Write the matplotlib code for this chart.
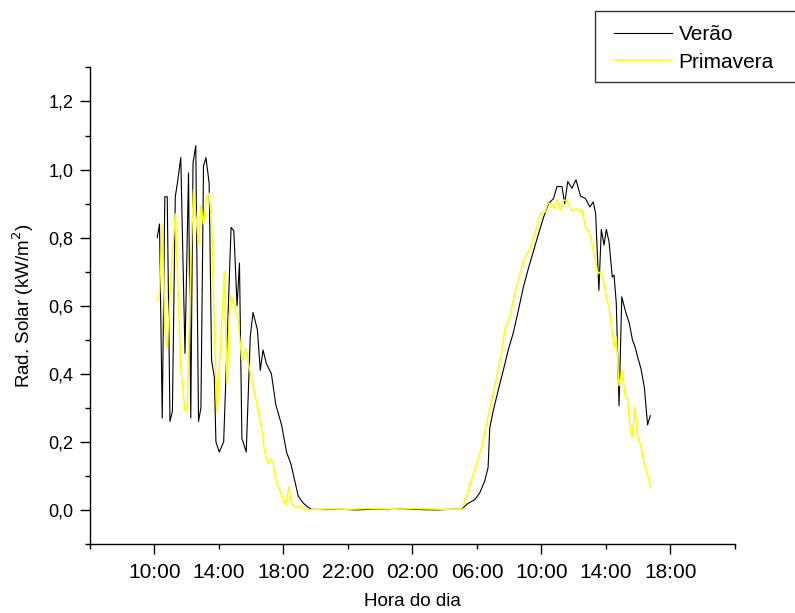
import numpy as np
import matplotlib.pyplot as plt
from matplotlib.ticker import FixedLocator, FixedFormatter, MultipleLocator, FuncFormatter
from matplotlib.patches import Rectangle

plt.rcParams['font.family'] = ['Liberation Sans', 'DejaVu Sans']

# Verão (hora contínua, kW/m2)
verao_h = [10.17, 10.31, 10.48, 10.64, 10.79, 10.96, 11.11, 11.29, 11.42, 11.63,
           11.89, 12.11, 12.25, 12.39, 12.56, 12.73, 12.88, 13.04, 13.19, 13.39,
           13.54, 13.71, 13.81, 14.02, 14.29, 14.75, 14.92, 15.12, 15.27, 15.42,
           15.56, 15.69, 15.94, 16.11, 16.38, 16.56, 16.73, 16.94, 17.25, 17.52,
           17.88, 18.19, 18.46, 18.92, 19.23, 19.54, 19.75, 20.5, 21.5, 22.5,
           23.5, 24.5, 25.5, 26.5, 27.5, 28.5, 29.02, 29.44, 29.86, 30.17,
           30.48, 30.69, 30.79, 31.0, 31.31, 31.63, 31.94, 32.25, 32.56, 32.88,
           33.19, 33.5, 33.81, 34.13, 34.44, 34.75, 34.96, 35.27, 35.44, 35.63,
           35.89, 36.14, 36.42, 36.73, 37.0, 37.21, 37.36, 37.56, 37.71, 37.88,
           38.02, 38.19, 38.39, 38.5, 38.64, 38.81, 38.98, 39.23, 39.44, 39.64,
           39.81, 39.96, 40.17, 40.38, 40.58, 40.75]
verao_v = [0.80, 0.84, 0.27, 0.92, 0.92, 0.26, 0.29, 0.92, 0.96, 1.035,
           0.46, 0.99, 0.27, 1.02, 1.07, 0.26, 0.30, 1.01, 1.035, 0.96,
           0.44, 0.39, 0.20, 0.17, 0.20, 0.83, 0.82, 0.60, 0.725, 0.21,
           0.19, 0.17, 0.51, 0.58, 0.53, 0.41, 0.47, 0.43, 0.40, 0.31,
           0.25, 0.17, 0.135, 0.04, 0.02, 0.007, 0.002, 0.001, 0.002, 0.0,
           0.002, 0.001, 0.003, 0.001, 0.0, 0.002, 0.002, 0.019, 0.03, 0.05,
           0.085, 0.125, 0.24, 0.29, 0.35, 0.41, 0.47, 0.52, 0.585, 0.655,
           0.71, 0.76, 0.81, 0.86, 0.90, 0.915, 0.95, 0.95, 0.90, 0.965,
           0.945, 0.97, 0.922, 0.915, 0.89, 0.905, 0.87, 0.645, 0.824, 0.778,
           0.824, 0.788, 0.684, 0.69, 0.606, 0.306, 0.626, 0.58, 0.55, 0.50,
           0.478, 0.45, 0.415, 0.36, 0.25, 0.277]

# Primavera
prim_h = [10.17, 10.31, 10.48, 10.64, 10.79, 11.0, 11.29, 11.63, 11.89, 12.04,
          12.25, 12.42, 12.73, 12.88, 13.04, 13.23, 13.39, 13.54, 13.71, 13.88,
          14.06, 14.33, 14.5, 14.64, 14.75, 14.96, 15.17, 15.42, 15.63, 16.0,
          16.31, 16.63, 16.83, 17.04, 17.21, 17.36, 17.5, 17.77, 18.13, 18.33,
          18.5, 18.81, 19.13, 19.29, 20.0, 21.0, 22.0, 23.0, 24.0, 25.0,
          26.0, 27.0, 28.0, 29.02, 29.33, 29.64, 29.96, 30.27, 30.58, 30.89,
          31.21, 31.52, 31.73, 32.04, 32.36, 32.67, 32.88, 33.29, 33.5, 33.71,
          33.92, 34.23, 34.38, 34.64, 34.79, 34.96, 35.17, 35.38, 35.58, 35.79,
          36.0, 36.17, 36.31, 36.52, 36.73, 37.04, 37.25, 37.5, 37.67, 37.88,
          38.04, 38.19, 38.5, 38.64, 38.81, 39.02, 39.17, 39.33, 39.48, 39.63,
          39.79, 39.96, 40.13, 40.38, 40.58, 40.75]
prim_v = [0.614, 0.636, 0.84, 0.53, 0.475, 0.675, 0.87, 0.42, 0.29, 0.30,
          0.74, 0.94, 0.78, 0.895, 0.84, 0.92, 0.93, 0.85, 0.53, 0.285,
          0.45, 0.70, 0.37, 0.57, 0.63, 0.60, 0.56, 0.44, 0.475, 0.39,
          0.32, 0.24, 0.17, 0.136, 0.15, 0.135, 0.09, 0.056, 0.015, 0.068,
          0.017, 0.007, 0.012, 0.0, 0.002, 0.003, 0.002, 0.004, 0.003, 0.002,
          0.004, 0.003, 0.002, 0.002, 0.036, 0.085, 0.135, 0.18, 0.25, 0.32,
          0.39, 0.46, 0.53, 0.57, 0.64, 0.695, 0.73, 0.77, 0.80, 0.83,
          0.87, 0.876, 0.90, 0.90, 0.885, 0.91, 0.88, 0.91, 0.91, 0.883,
          0.88, 0.886, 0.88, 0.88, 0.83, 0.807, 0.753, 0.694, 0.70, 0.665,
          0.62, 0.596, 0.478, 0.508, 0.365, 0.41, 0.336, 0.331, 0.247, 0.213,
          0.30, 0.218, 0.194, 0.13, 0.105, 0.066]

major_h = [10, 18, 26, 34, 42]
minor_h = [6, 14, 22, 30, 38, 46]
major_lbl = ['10:00', '18:00', '02:00', '10:00', '18:00']
minor_lbl = ['', '14:00', '22:00', '06:00', '14:00', '']

fig = plt.figure(figsize=(7.95, 6.13), dpi=100)
ax = fig.add_axes([0.1132, 0.1126, 0.8113, 0.7774])

ax.plot(verao_h, verao_v, color='black', lw=0.8, label='Verão')
ax.plot(prim_h, prim_v, color='#FFFF00', lw=1.1, label='Primavera')

ax.set_xlim(6, 46)
ax.set_ylim(-0.1, 1.3)

for s in ['top', 'right']:
    ax.spines[s].set_visible(False)
for s in ['left', 'bottom']:
    ax.spines[s].set_linewidth(1.0)

ax.xaxis.set_major_locator(FixedLocator(major_h))
ax.xaxis.set_major_formatter(FixedFormatter(major_lbl))
ax.xaxis.set_minor_locator(FixedLocator(minor_h))
ax.xaxis.set_minor_formatter(FixedFormatter(minor_lbl))
ax.tick_params(axis='x', which='major', length=7.2, width=1, pad=6.5, labelsize=15)
ax.tick_params(axis='x', which='minor', length=3.8, width=1, pad=9.9, labelsize=15)

ax.yaxis.set_major_locator(MultipleLocator(0.2))
ax.yaxis.set_minor_locator(MultipleLocator(0.1))
ax.yaxis.set_major_formatter(FuncFormatter(lambda v, p: f'{v:.1f}'.replace('.', ',')))
ax.tick_params(axis='y', which='major', length=7, width=1, pad=5, labelsize=13)
ax.tick_params(axis='y', which='minor', length=3.6, width=1)

ax.set_xlabel('Hora do dia', fontsize=13.5, labelpad=8)
ax.set_ylabel('Rad. Solar (kW/m$^2$)', fontsize=13.5, labelpad=9)

fig.patches.append(Rectangle((595 / 795, 1 - 82 / 613), 0.3, 71 / 613,
                             transform=fig.transFigure, fill=False,
                             edgecolor='#333333', lw=1))
fig.legend(loc='upper left', bbox_to_anchor=(614 / 795, 1 - 25 / 613),
           frameon=False, fontsize=15, handlelength=2.8, handletextpad=0.3,
           labelspacing=0.42, borderpad=0, borderaxespad=0)

fig.savefig('out.png', dpi=100)
